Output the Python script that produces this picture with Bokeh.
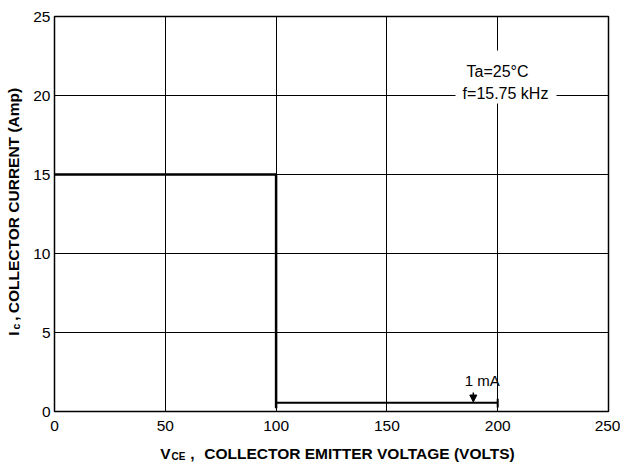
from bokeh.plotting import figure
from bokeh.models import Range1d, Label, BoxAnnotation, Arrow, NormalHead, FixedTicker
from bokeh.layouts import column, row
from bokeh.embed import file_html
from bokeh.resources import INLINE
import math

# ---- data ----
x_ticks = [0, 50, 100, 150, 200, 250]
y_ticks = [0, 5, 10, 15, 20, 25]
soa_v = [0, 100, 100]          # VCE (V)
soa_i = [15, 15, 0.2]          # IC (A)
leak_v = [100, 200]
leak_i = [0.55, 0.55]
end_v = [200, 200]
end_i = [0.25, 0.8]
arrow_v = 189
arrow_i = [1.2, 0.6]
label_1ma = "1 mA"
cond1 = "Ta=25°C"
cond2 = "f=15.75 kHz"
xtitle = ["V", "CE", ",", "COLLECTOR EMITTER VOLTAGE (VOLTS)"]
ytitle = ["I", "c", ",", "COLLECTOR CURRENT (Amp)"]

FONT = "Liberation Sans"
LW = 30                     # left title strip width
FL, FR, FT, FB = 54, 608, 16, 411   # frame in page pixels
MAIN_H = 438
BOT_H = 24
TOTAL_W = 620

def dx(px):
    return (px - FL) * 250.0 / (FR - FL)

def dy(py):
    return (FB - py) * 25.0 / (FB - FT)

p = figure(output_backend="svg", toolbar_location=None, title=None,
           x_range=Range1d(0, 250), y_range=Range1d(0, 25),
           frame_width=FR - FL, frame_height=FB - FT,
           width=TOTAL_W - LW, height=MAIN_H,
           min_border_left=FL - LW, min_border_right=TOTAL_W - FR,
           min_border_top=FT, min_border_bottom=MAIN_H - FB)
p.background_fill_color = "white"
p.border_fill_color = "white"
p.outline_line_color = "black"
p.outline_line_width = 1.5

for ax in (p.xaxis[0], p.yaxis[0]):
    ax.major_tick_out = 0
    ax.major_tick_in = 0
    ax.minor_tick_line_color = None
    ax.axis_line_color = "black"
    ax.major_label_text_font = FONT
    ax.major_label_text_font_size = "15.5px"
    ax.major_label_text_color = "black"
p.xaxis.ticker = FixedTicker(ticks=x_ticks)
p.yaxis.ticker = FixedTicker(ticks=y_ticks)
p.xaxis.major_label_standoff = 9
p.yaxis.major_label_standoff = 4

p.xgrid.ticker = FixedTicker(ticks=x_ticks)
p.ygrid.ticker = FixedTicker(ticks=y_ticks)
for g in (p.xgrid[0], p.ygrid[0]):
    g.grid_line_color = "black"
    g.grid_line_width = 1
    g.grid_line_alpha = 1

# curves
p.line(soa_v, soa_i, line_color="black", line_width=2.5)
p.line(leak_v, leak_i, line_color="black", line_width=2)
p.line(end_v, end_i, line_color="black", line_width=2)

p.add_layout(Arrow(end=NormalHead(size=7, fill_color="black", line_color="black"),
                   x_start=arrow_v, y_start=arrow_i[0], x_end=arrow_v, y_end=arrow_i[1],
                   line_color="black", line_width=1.5))
p.add_layout(Label(x=193, y=dy(380), text=label_1ma, text_align="center",
                   text_baseline="middle", text_font=FONT, text_font_size="15px",
                   text_color="black"))

# condition box
p.add_layout(BoxAnnotation(left=dx(455), right=dx(556), top=dy(50), bottom=dy(103),
                           fill_color="white", fill_alpha=1, line_color=None))
p.add_layout(Label(x=dx(497), y=dy(71), text=cond1, text_align="center",
                   text_baseline="middle", text_font=FONT, text_font_size="16px",
                   text_color="black"))
p.add_layout(Label(x=dx(505), y=dy(93), text=cond2, text_align="center",
                   text_baseline="middle", text_font=FONT, text_font_size="16px",
                   text_color="black"))


def strip(w, h, y_range):
    f = figure(width=w, height=h, output_backend="svg", toolbar_location=None,
               title=None,
               x_range=Range1d(0, w), y_range=y_range,
               x_axis_location=None, y_axis_location=None,
               min_border=0, min_border_left=0, min_border_right=0,
               min_border_top=0, min_border_bottom=0)
    f.outline_line_color = None
    f.background_fill_color = "white"
    f.border_fill_color = "white"
    f.grid.visible = False
    return f


def lab(f, x, y, t, size, angle=0.0):
    f.add_layout(Label(x=x, y=y, text=t, text_align="center",
                       text_baseline="middle", text_font=FONT, text_font_size=size,
                       text_font_style="bold", text_color="black", angle=angle))

# y title strip: its frame is aligned with the main frame (page y FT..FB);
# data y = -page y
left = strip(LW, MAIN_H, Range1d(-FB, -FT))
ang = math.pi / 2
lab(left, 12.5, -333, ytitle[0], "15.5px", ang)
lab(left, 15, -326, ytitle[1], "10.5px", ang)
lab(left, 12.5, -318, ytitle[2], "15.5px", ang)
lab(left, 12.5, -200, ytitle[3], "15.5px", ang)

# x title strip: data y = page y measured upward from the strip bottom
bottom = strip(TOTAL_W, BOT_H, Range1d(0, BOT_H))
top_y = MAIN_H + BOT_H
lab(bottom, 165, top_y - 453, xtitle[0], "15.5px")
lab(bottom, 178, top_y - 456, xtitle[1], "10px")
lab(bottom, 192, top_y - 453, xtitle[2], "15.5px")
lab(bottom, 359, top_y - 453, xtitle[3], "15.5px")

layout = column(row(left, p), bottom)
open("out.html", "w").write(file_html(layout, INLINE))
